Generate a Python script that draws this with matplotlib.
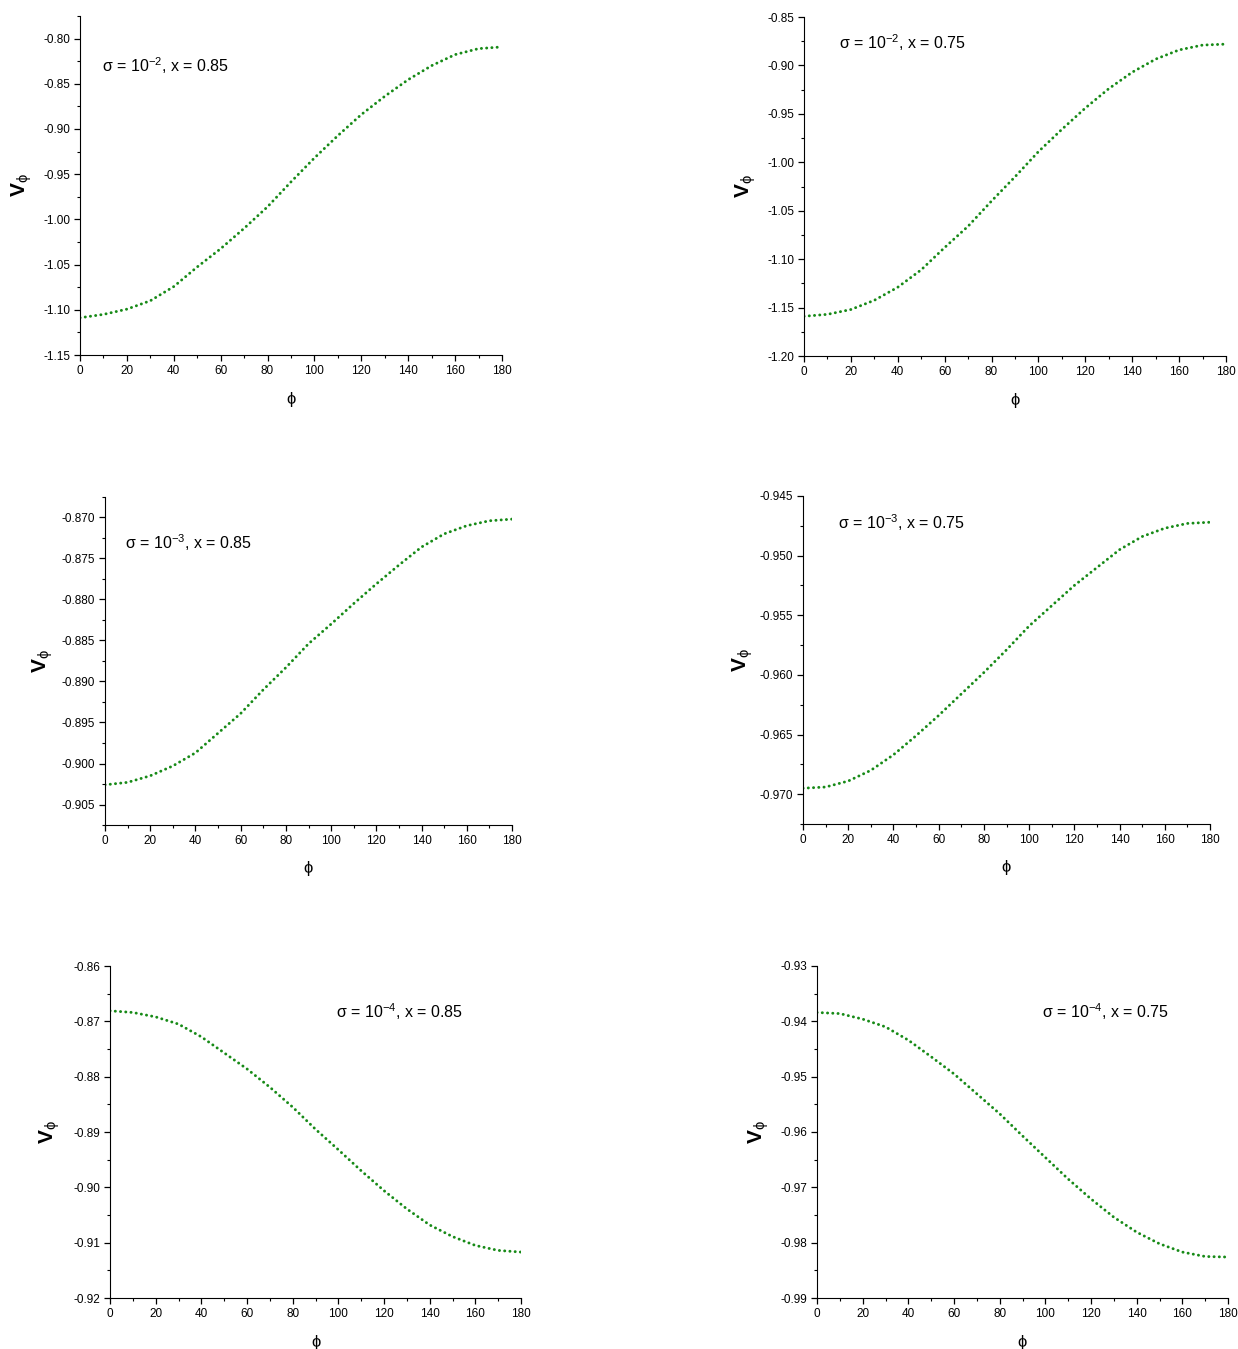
import numpy as np
import matplotlib
matplotlib.use("Agg")
import matplotlib.pyplot as plt
from matplotlib.ticker import MultipleLocator, FormatStrFormatter

plt.rcParams['font.family'] = ['Liberation Sans', 'DejaVu Sans']
plt.rcParams['axes.unicode_minus'] = False
plt.rcParams['mathtext.fontset'] = 'custom'
plt.rcParams['mathtext.rm'] = 'Liberation Sans'
plt.rcParams['mathtext.it'] = 'Liberation Sans:italic'
plt.rcParams['mathtext.bf'] = 'Liberation Sans:bold'
plt.rcParams['mathtext.fallback'] = 'stixsans'

phi = [0, 10, 20, 30, 40, 50, 60, 70, 80, 90, 100, 110, 120, 130, 140, 150, 160, 170, 180]

# sigma = 1e-2
v_s2_x085 = [-1.1088, -1.1051, -1.0993, -1.090, -1.0743, -1.0526, -1.0324, -1.0099, -0.986, -0.9585,
             -0.932, -0.9073, -0.884, -0.8638, -0.8454, -0.8299, -0.8177, -0.8111, -0.8092]
v_s2_x075 = [-1.159, -1.157, -1.152, -1.1425, -1.129, -1.111, -1.088, -1.066, -1.040, -1.015,
             -0.989, -0.966, -0.944, -0.924, -0.907, -0.8935, -0.884, -0.879, -0.878]
# sigma = 1e-3
v_s3_x085 = [-0.9026, -0.9023, -0.9015, -0.9003, -0.8987, -0.8963, -0.8939, -0.891, -0.8883, -0.8854,
             -0.883, -0.8805, -0.8781, -0.8758, -0.8736, -0.872, -0.871, -0.8704, -0.8702]
v_s3_x075 = [-0.9695, -0.9694, -0.9689, -0.968, -0.9667, -0.9651, -0.9634, -0.9616, -0.9598, -0.9579,
             -0.9559, -0.9542, -0.9525, -0.951, -0.9495, -0.9484, -0.9477, -0.9473, -0.9472]
# sigma = 1e-4
v_s4_x085 = [-0.8681, -0.8684, -0.8692, -0.8705, -0.8728, -0.8757, -0.8786, -0.8819, -0.8855, -0.8895,
             -0.8932, -0.897, -0.9006, -0.9039, -0.9068, -0.9089, -0.9105, -0.9114, -0.9117]
v_s4_x075 = [-0.9384, -0.9386, -0.9396, -0.9410, -0.9434, -0.9464, -0.9495, -0.9531, -0.9567, -0.9607,
             -0.9646, -0.9685, -0.9721, -0.9754, -0.9781, -0.9802, -0.9817, -0.9825, -0.9826]

labels = ['σ = 10$^{-2}$, x = 0.85', 'σ = 10$^{-2}$, x = 0.75',
          'σ = 10$^{-3}$, x = 0.85', 'σ = 10$^{-3}$, x = 0.75',
          'σ = 10$^{-4}$, x = 0.85', 'σ = 10$^{-4}$, x = 0.75']
series = [v_s2_x085, v_s2_x075, v_s3_x085, v_s3_x075, v_s4_x085, v_s4_x075]

W, H = 1238.0, 1349.0
# panel boxes in pixels: left, right, top, bottom
boxes = [(80, 502, 16, 355), (804, 1226, 17, 356),
         (105, 512, 497, 825), (803, 1210, 496, 824),
         (110, 521, 966, 1298), (817, 1228, 966, 1298)]
ylims = [(-1.15, -0.775), (-1.20, -0.85), (-0.9075, -0.8675),
         (-0.9725, -0.945), (-0.92, -0.86), (-0.99, -0.93)]
ysteps = [0.05, 0.05, 0.005, 0.005, 0.01, 0.01]
yfmts = ['%.2f', '%.2f', '%.3f', '%.3f', '%.2f', '%.2f']
text_pos = [(0.052, 0.855), (0.083, 0.923), (0.049, 0.86),
            (0.086, 0.918), (0.55, 0.864), (0.547, 0.864)]
ylab_x = [-0.11, -0.11, -0.122, -0.117, -0.117, -0.112]

fig = plt.figure(figsize=(12.38, 13.49), dpi=100)

for i in range(6):
    l, r, t, b = boxes[i]
    ax = fig.add_axes([l / W, 1 - b / H, (r - l) / W, (b - t) / H])
    ax.plot(phi, series[i], color='#178a17', linestyle=(0, (0.05, 1.75)),
            linewidth=2.1, dash_capstyle='round')
    ax.set_xlim(0, 180)
    ax.set_ylim(*ylims[i])
    ax.xaxis.set_major_locator(MultipleLocator(20))
    ax.xaxis.set_minor_locator(MultipleLocator(10))
    ax.yaxis.set_major_locator(MultipleLocator(ysteps[i]))
    ax.yaxis.set_minor_locator(MultipleLocator(ysteps[i] / 2))
    ax.yaxis.set_major_formatter(FormatStrFormatter(yfmts[i]))
    ax.spines['top'].set_visible(False)
    ax.spines['right'].set_visible(False)
    ax.tick_params(which='major', direction='out', length=4, width=0.9, labelsize=8.5, pad=3)
    ax.tick_params(which='minor', direction='out', length=2.5, width=0.8)
    ax.set_xlabel('ϕ', fontsize=12)
    ax.xaxis.set_label_coords(0.5, -0.11)
    ax.set_ylabel(r'$\mathbf{V}_{\mathrm{ϕ}}$', fontsize=15)
    ax.yaxis.set_label_coords(ylab_x[i], 0.5)
    ax.text(text_pos[i][0], text_pos[i][1], labels[i], transform=ax.transAxes,
            fontsize=11.5, va='center', ha='left')

plt.savefig("out.png", dpi=100)
